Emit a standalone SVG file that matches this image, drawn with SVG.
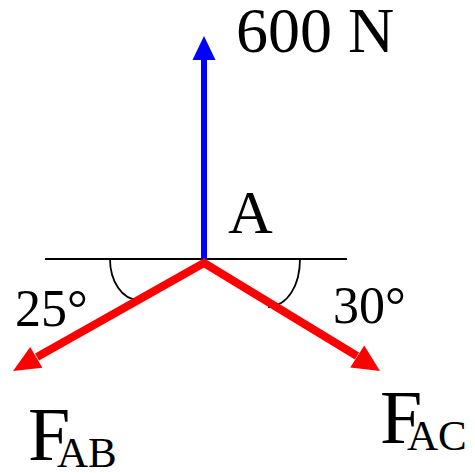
<svg xmlns="http://www.w3.org/2000/svg" width="475" height="473" viewBox="0 0 475 473">
<style>
.t{font-family:"Liberation Serif","Times New Roman",serif;fill:#000}
.red{stroke:#ff0000;stroke-width:8;fill:none}
.redh{fill:#ff0000}
.arc{stroke:#000;stroke-width:1.8;fill:none}
</style>
<rect width="475" height="473" fill="#fff"/>
<g id="reference-line">
<line x1="45" y1="259" x2="347" y2="259" stroke="#000" stroke-width="2"/>
<path class="arc" d="M110,259 C110,281 122,300 139,300"/>
<path class="arc" d="M300,259 C300,285 288,306 268,307"/>
</g>
<g id="connectors">
<line x1="204" y1="259" x2="204" y2="58" stroke="#0000ff" stroke-width="6"/>
<polygon points="204,36 192.5,60 215.5,60" fill="#0000ff"/>
<polyline class="red" points="37,357 204,263 357,356" stroke-linejoin="miter"/>
<polygon class="redh" points="13,371 42.4,367.7 30.2,346.9"/>
<polygon class="redh" points="380,371 350.2,367.5 364.2,345.5"/>
</g>
<g id="node-A">
<text class="t" x="228" y="233" font-size="62">A</text>
</g>
<g id="label-600N">
<text class="t" x="236" y="52" font-size="64">600 N</text>
</g>
<g id="label-25">
<text class="t" x="15" y="326" font-size="52">25°</text>
</g>
<g id="label-30">
<text class="t" x="333" y="323" font-size="52">30°</text>
</g>
<g id="label-FAB">
<text class="t" x="28" y="460" font-size="76">F</text>
<text class="t" x="57" y="467" font-size="43">AB</text>
</g>
<g id="label-FAC">
<text class="t" x="380" y="443" font-size="76">F</text>
<text class="t" x="407" y="450" font-size="43">AC</text>
</g>
</svg>
